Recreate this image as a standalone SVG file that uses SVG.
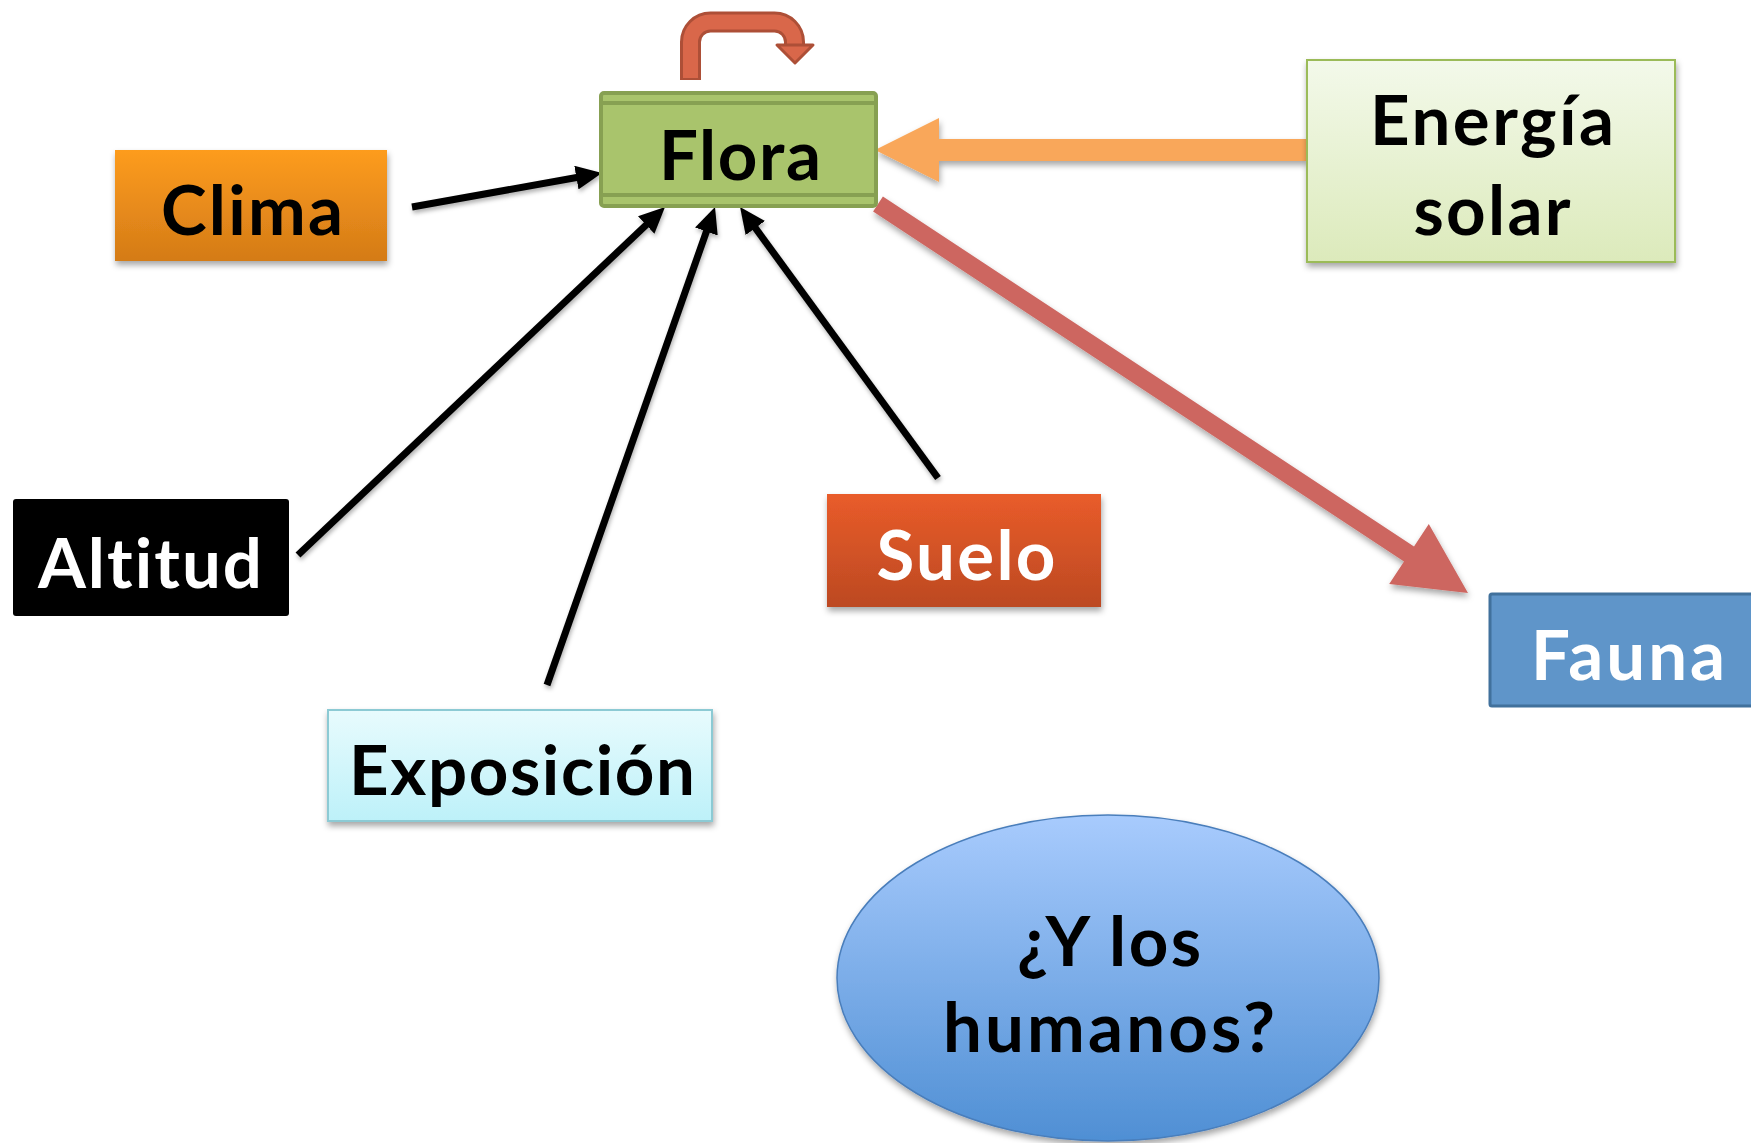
<svg xmlns="http://www.w3.org/2000/svg" width="1751" height="1143" viewBox="0 0 1751 1143">
<style>
.t{font-family:Lato,"Open Sans","Liberation Sans",sans-serif;font-weight:bold;font-size:69px;text-anchor:middle;font-variant-ligatures:none;font-feature-settings:"liga" 0}
.blk{fill:#000}
.wht{fill:#fff}
.ln{stroke:#000;stroke-width:7;fill:none;marker-end:url(#ah)}
</style>
<defs>
<filter id="sh" x="-10%" y="-10%" width="125%" height="130%">
<feDropShadow dx="1" dy="4" stdDeviation="3" flood-color="#000" flood-opacity="0.35"/>
</filter>
<filter id="lsh" x="-10%" y="-10%" width="125%" height="125%">
<feDropShadow dx="1" dy="3" stdDeviation="2" flood-color="#000" flood-opacity="0.3"/>
</filter>
<marker id="ah" viewBox="0 0 26 24" markerWidth="26" markerHeight="24" refX="13" refY="12" orient="auto" markerUnits="userSpaceOnUse">
<path d="M0,0 L26,12 L0,24 z" fill="#000"/>
</marker>
<linearGradient id="gClima" x1="0" y1="0" x2="0" y2="1"><stop offset="0" stop-color="#fd9c1f"/><stop offset="1" stop-color="#d47b17"/></linearGradient>
<linearGradient id="gEn" x1="0" y1="0" x2="0" y2="1"><stop offset="0" stop-color="#f3f9ea"/><stop offset="1" stop-color="#dceabb"/></linearGradient>
<linearGradient id="gSuelo" x1="0" y1="0" x2="0" y2="1"><stop offset="0" stop-color="#e95c2a"/><stop offset="1" stop-color="#bc4922"/></linearGradient>
<linearGradient id="gExp" x1="0" y1="0" x2="0" y2="1"><stop offset="0" stop-color="#e8fbfd"/><stop offset="1" stop-color="#bdf1f9"/></linearGradient>
<linearGradient id="gEl" x1="0" y1="0" x2="0" y2="1"><stop offset="0" stop-color="#a8cbfd"/><stop offset="1" stop-color="#4f8fd4"/></linearGradient>
</defs>

<g id="connectors">
<g filter="url(#lsh)">
<line class="ln" x1="412" y1="207" x2="589.2" y2="175.3"/>
<line class="ln" x1="298" y1="555" x2="655.6" y2="216"/>
<line class="ln" x1="547" y1="685" x2="710.7" y2="219.3"/>
<line class="ln" x1="938" y1="478" x2="747.7" y2="217.5"/>
</g>
<polygon id="solar-arrow" filter="url(#sh)" fill="#f9a75a" points="1307,139 939,139 939,118 875,150 939,182 939,161 1307,161"/>
<polygon id="fauna-arrow" filter="url(#sh)" fill="#cd6660" points="873.1,211.5 882.9,196.5 1414,546.5 1428.8,523.9 1468,593 1389.2,584.1 1404,561.5"/>
<g id="self-loop">
<path d="M690.5,80 V42 A20,20 0 0 1 710.5,22 H774.5 A20,20 0 0 1 794.5,42 V48" fill="none" stroke="#ad4f37" stroke-width="21"/>
<path d="M690.5,78 V42 A20,20 0 0 1 710.5,22 H774.5 A20,20 0 0 1 794.5,42 V50" fill="none" stroke="#d9674a" stroke-width="15"/>
<polygon points="777,45 813,45 795,63" fill="#d9674a" stroke="#ad4f37" stroke-width="3" stroke-linejoin="round"/>
</g>
</g>

<g id="flora">
<rect x="601" y="93" width="275" height="113" rx="3" fill="#a9c46c" stroke="#87a052" stroke-width="4"/>
<line x1="603" y1="103" x2="874" y2="103" stroke="#87a052" stroke-width="4"/>
<line x1="603" y1="195" x2="874" y2="195" stroke="#87a052" stroke-width="4"/>
<text class="t blk" x="740" y="180" textLength="162">Flora</text>
</g>

<g id="clima">
<rect x="115" y="150" width="272" height="111" fill="url(#gClima)" filter="url(#sh)"/>
<text class="t blk" x="252" y="235" textLength="182">Clima</text>
</g>

<g id="energia">
<rect x="1307" y="60" width="368" height="202" fill="url(#gEn)" stroke="#9bbb59" stroke-width="2" filter="url(#sh)"/>
<text class="t blk" x="1492" y="145" textLength="244">Energía</text>
<text class="t blk" x="1492" y="235" textLength="157">solar</text>
</g>

<g id="altitud">
<rect x="13" y="499" width="276" height="117" rx="3" fill="#000"/>
<text class="t wht" x="150" y="588" textLength="224">Altitud</text>
</g>

<g id="suelo">
<rect x="827" y="494" width="274" height="113" fill="url(#gSuelo)" filter="url(#sh)"/>
<text class="t wht" x="966" y="580" textLength="179">Suelo</text>
</g>

<g id="fauna">
<rect x="1490" y="594" width="290" height="112" rx="2" fill="#5f95c9" stroke="#41719c" stroke-width="3"/>
<text class="t wht" x="1628" y="680" textLength="194">Fauna</text>
</g>

<g id="exposicion">
<rect x="328" y="710" width="384" height="111" fill="url(#gExp)" stroke="#8ccad4" stroke-width="2" filter="url(#sh)"/>
<text class="t blk" x="522" y="795" textLength="346">Exposición</text>
</g>

<g id="humanos">
<ellipse cx="1108" cy="978" rx="271" ry="163" fill="url(#gEl)" stroke="#4a7ebb" stroke-width="1.5" filter="url(#sh)"/>
<text class="t blk" x="1109" y="966" textLength="184">¿Y los</text>
<text class="t blk" x="1109" y="1052" textLength="332">humanos?</text>
</g>
</svg>
